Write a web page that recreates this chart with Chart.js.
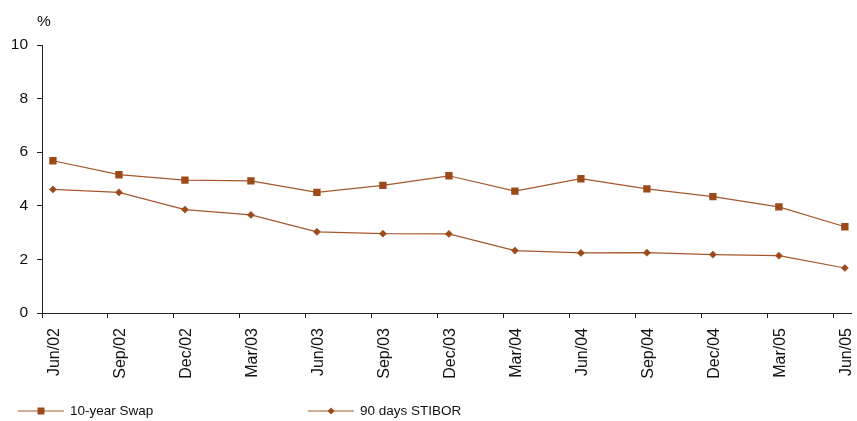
<!DOCTYPE html>
<html>
<head>
<meta charset="utf-8">
<script src="https://cdn.jsdelivr.net/npm/chart.js@4.4.1/dist/chart.umd.min.js"></script>
<style>
  html, body { margin: 0; padding: 0; background: #fff; }
  canvas { display: block; }
</style>
</head>
<body>
<canvas id="c" width="857" height="421"></canvas>
<script>
// Quarter-end observations
const quarters = ['Jun/02', 'Sep/02', 'Dec/02', 'Mar/03', 'Jun/03', 'Sep/03', 'Dec/03',
                  'Mar/04', 'Jun/04', 'Sep/04', 'Dec/04', 'Mar/05', 'Jun/05'];
const swap10y   = [5.68, 5.16, 4.96, 4.93, 4.50, 4.76, 5.12, 4.55, 5.01, 4.63, 4.34, 3.96, 3.22];
const stibor90d = [4.61, 4.50, 3.86, 3.66, 3.03, 2.96, 2.95, 2.33, 2.24, 2.25, 2.18, 2.14, 1.68];
const yTicks = [0, 2, 4, 6, 8, 10];

const BROWN = '#9c4a1a';
const LINE = '#a5582c';
const FONT = '"Liberation Sans", Arial, sans-serif';

// tick marks sit a little before each quarter's point
const TICK_SHIFT = 0.166;

const toPoints = arr => arr.map((v, i) => ({ x: i, y: v }));

// "%" unit above the value axis and the series key under the chart
const decorations = {
  id: 'decorations',
  afterDraw(chart) {
    const ctx = chart.ctx;
    const ys = chart.scales.y;
    ctx.save();
    ctx.fillStyle = '#111';
    ctx.font = '15.5px ' + FONT;
    ctx.textAlign = 'center';
    ctx.textBaseline = 'middle';
    ctx.fillText('%', ys.right + 2, ys.top - 23);

    const starts = [18, 308];
    const y = 411;
    chart.data.datasets.forEach((ds, i) => {
      const x0 = starts[i];
      ctx.strokeStyle = ds.borderColor;
      ctx.lineWidth = 1;
      ctx.beginPath();
      ctx.moveTo(x0, y);
      ctx.lineTo(x0 + 46, y);
      ctx.stroke();
      const cx = x0 + 23;
      ctx.fillStyle = ds.pointBackgroundColor;
      ctx.beginPath();
      if (ds.pointStyle === 'rect') {
        ctx.rect(cx - 3.5, y - 3.5, 7, 7);
      } else {
        ctx.moveTo(cx, y - 3.5);
        ctx.lineTo(cx + 3.5, y);
        ctx.lineTo(cx, y + 3.5);
        ctx.lineTo(cx - 3.5, y);
        ctx.closePath();
      }
      ctx.fill();
      ctx.fillStyle = '#111';
      ctx.font = '13.5px ' + FONT;
      ctx.textAlign = 'left';
      ctx.textBaseline = 'middle';
      ctx.fillText(ds.label, x0 + 52, y + 0.5);
    });
    ctx.restore();
  }
};

new Chart(document.getElementById('c'), {
  type: 'line',
  data: {
    datasets: [
      {
        label: '10-year Swap',
        data: toPoints(swap10y),
        borderColor: LINE,
        borderWidth: 1.2,
        pointStyle: 'rect',
        pointRadius: 5.2,
        pointBackgroundColor: BROWN,
        pointBorderColor: BROWN,
        pointBorderWidth: 0,
        tension: 0
      },
      {
        label: '90 days STIBOR',
        data: toPoints(stibor90d),
        borderColor: LINE,
        borderWidth: 1.2,
        pointStyle: 'rectRot',
        pointRadius: 3.6,
        pointBackgroundColor: BROWN,
        pointBorderColor: BROWN,
        pointBorderWidth: 0.5,
        tension: 0
      }
    ]
  },
  options: {
    responsive: false,
    devicePixelRatio: 1,
    animation: false,
    layout: { padding: { top: 45, right: 0, bottom: 0, left: 0 } },
    plugins: {
      legend: { display: false },
      tooltip: { enabled: false }
    },
    scales: {
      x: {
        type: 'linear',
        bounds: 'data',
        min: -TICK_SHIFT,
        max: quarters.length - 1 + 0.105,
        afterBuildTicks(scale) {
          scale.ticks = quarters.map((q, i) => ({ value: i - TICK_SHIFT }));
        },
        afterFit(scale) {
          scale.height = 108;
          scale.paddingLeft = 0;
          scale.paddingRight = 0;
        },
        grid: {
          display: true,
          drawOnChartArea: false,
          drawTicks: true,
          tickLength: 5,
          color: '#222',
          lineWidth: 1
        },
        border: { display: true, color: '#222', width: 1 },
        ticks: {
          autoSkip: false,
          minRotation: 90,
          maxRotation: 90,
          labelOffset: 12.5,
          padding: 10,
          color: '#111',
          font: { family: FONT, size: 16 },
          callback: (value, index) => quarters[index]
        }
      },
      y: {
        min: 0,
        max: 10,
        afterBuildTicks(scale) {
          scale.ticks = yTicks.map(v => ({ value: v }));
        },
        afterFit(scale) {
          scale.width = 42;
          scale.paddingTop = 0;
          scale.paddingBottom = 0;
        },
        grid: {
          display: true,
          drawOnChartArea: false,
          drawTicks: true,
          tickLength: 5,
          color: '#222',
          lineWidth: 1
        },
        border: { display: true, color: '#222', width: 1 },
        ticks: {
          padding: 9,
          color: '#111',
          font: { family: FONT, size: 15.5 }
        }
      }
    }
  },
  plugins: [decorations]
});
</script>
</body>
</html>
